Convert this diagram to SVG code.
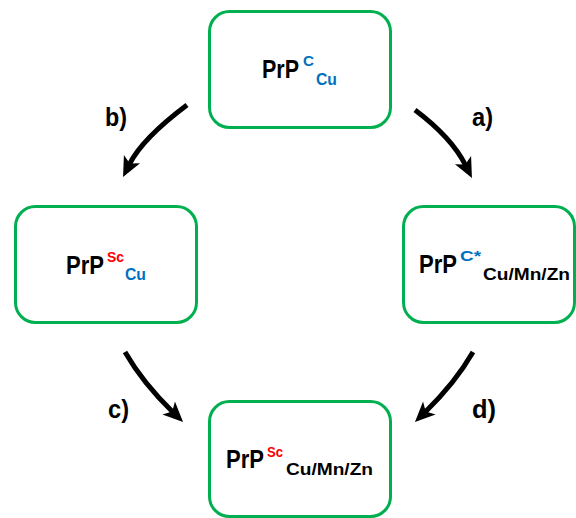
<svg xmlns="http://www.w3.org/2000/svg" width="576" height="518" viewBox="0 0 576 518">
<defs>
<style>
.box{fill:#fff;stroke:#00B050;stroke-width:3}
.t{font-family:"Liberation Sans",Arial,sans-serif;font-weight:bold}
.m{font-size:25px;fill:#000}
.sup{font-size:15.5px}
.sub{font-size:17px}
.blue{fill:#0070C0}
.red{fill:#FF0000}
.blk{fill:#000}
.lbl{font-size:26px;fill:#000}
.arr{fill:none;stroke:#000;stroke-width:5;marker-end:url(#ah)}
</style>
<marker id="ah" markerUnits="userSpaceOnUse" markerWidth="21" markerHeight="19" refX="6" refY="9" orient="auto" overflow="visible">
<path d="M0,0 L20,9 L0,18 L5,9 z" fill="#000"/>
</marker>
</defs>
<g id="connectors">
<path class="arr" d="M415,110 Q451.8,137.6 465.7,165.5"/>
<path class="arr" d="M187,105 Q142.2,138.6 129.3,164.5"/>
<path class="arr" d="M125,352 Q142.8,382.9 173,412.2"/>
<path class="arr" d="M473,352 Q455.2,382.9 425,412.2"/>
<text class="t lbl" x="105" y="126" textLength="22" lengthAdjust="spacingAndGlyphs">b)</text>
<text class="t lbl" x="472" y="126" textLength="21" lengthAdjust="spacingAndGlyphs">a)</text>
<text class="t lbl" x="108" y="418" textLength="21" lengthAdjust="spacingAndGlyphs">c)</text>
<text class="t lbl" x="472" y="418" textLength="24" lengthAdjust="spacingAndGlyphs">d)</text>
</g>
<g id="node-top">
<rect class="box" x="209.5" y="11.5" width="181" height="116" rx="20"/>
<text class="t m" x="262" y="78" textLength="37" lengthAdjust="spacingAndGlyphs">PrP</text>
<text class="t sup blue" x="303" y="66" textLength="11" lengthAdjust="spacingAndGlyphs">C</text>
<text class="t sub blue" x="316" y="85" textLength="21" lengthAdjust="spacingAndGlyphs">Cu</text>
</g>
<g id="node-left">
<rect class="box" x="15.5" y="206.5" width="181" height="116" rx="20"/>
<text class="t m" x="66" y="274" textLength="38" lengthAdjust="spacingAndGlyphs">PrP</text>
<text class="t sup red" x="107" y="262" textLength="17" lengthAdjust="spacingAndGlyphs">Sc</text>
<text class="t sub blue" x="125" y="280" textLength="21" lengthAdjust="spacingAndGlyphs">Cu</text>
</g>
<g id="node-right">
<rect class="box" x="403.5" y="206.5" width="171" height="116" rx="20"/>
<text class="t m" x="419" y="273" textLength="38" lengthAdjust="spacingAndGlyphs">PrP</text>
<text class="t sup blue" x="460" y="261" textLength="21" lengthAdjust="spacingAndGlyphs">C*</text>
<text class="t sub blk" x="483" y="280" textLength="87" lengthAdjust="spacingAndGlyphs">Cu/Mn/Zn</text>
</g>
<g id="node-bottom">
<rect class="box" x="209.5" y="401.5" width="181" height="115" rx="20"/>
<text class="t m" x="226" y="468" textLength="38" lengthAdjust="spacingAndGlyphs">PrP</text>
<text class="t sup red" x="267" y="457" textLength="16" lengthAdjust="spacingAndGlyphs">Sc</text>
<text class="t sub blk" x="286" y="475" textLength="87" lengthAdjust="spacingAndGlyphs">Cu/Mn/Zn</text>
</g>
</svg>
